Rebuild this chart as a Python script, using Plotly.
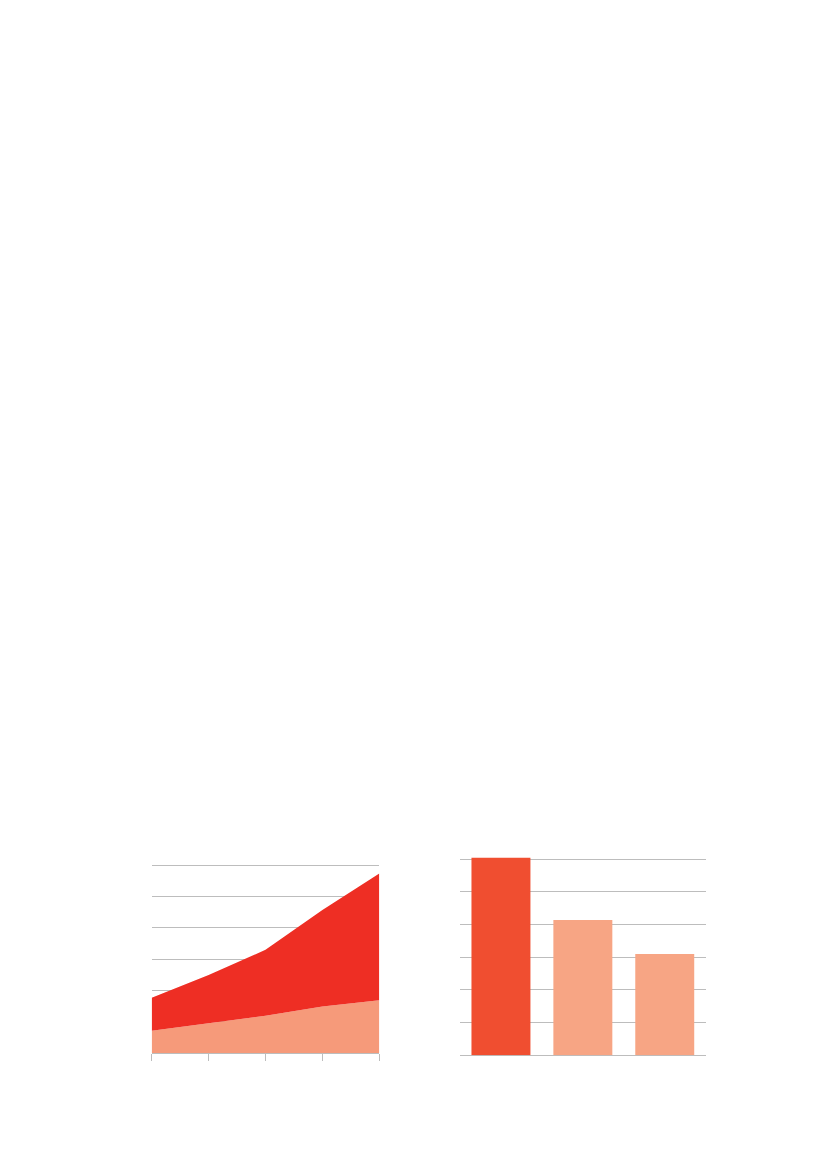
import plotly.graph_objects as go

# left chart: stacked areas (grid units 0..6)
periods = [0, 1, 2, 3, 4]
base_share = [0.72, 0.96, 1.20, 1.49, 1.69]
top_share = [1.05, 1.54, 2.10, 3.08, 4.05]

# right chart: three bars
bar_cats = [0, 1, 2]
bar_vals = [6.05, 4.14, 3.10]
bar_colors = ["#F04E30", "#F7A584", "#F7A584"]

GRID = "#BDBDBD"
W, H = 827, 1169
OFF = 8  # page body margin


def px_x(v):
    return (v - OFF) / W


def px_y(v):
    return (H - (v - OFF)) / H


fig = go.Figure()

fig.add_trace(go.Scatter(x=periods, y=base_share, stackgroup="a",
                         mode="lines", line=dict(width=0, color="#F69A7A"),
                         fillcolor="#F69A7A", xaxis="x", yaxis="y",
                         hoverinfo="skip"))
fig.add_trace(go.Scatter(x=periods, y=top_share, stackgroup="a",
                         mode="lines", line=dict(width=0, color="#EE2E24"),
                         fillcolor="#EE2E24", xaxis="x", yaxis="y",
                         hoverinfo="skip"))

fig.add_trace(go.Bar(x=bar_cats, y=bar_vals, marker_color=bar_colors,
                     marker_line_width=0, xaxis="x2", yaxis="y2",
                     hoverinfo="skip"))

fig.update_layout(
    width=W, height=H,
    margin=dict(l=0, r=0, t=0, b=0),
    paper_bgcolor="white", plot_bgcolor="white",
    showlegend=False,
    bargap=0.28,
    xaxis=dict(domain=[px_x(151.7), px_x(379.3)], range=[0, 4],
               tickvals=periods, showticklabels=False,
               ticks="outside", ticklen=7, tickcolor=GRID, tickwidth=1,
               showline=True, linecolor=GRID, linewidth=1,
               showgrid=False, zeroline=False),
    yaxis=dict(domain=[px_y(1053.3), px_y(864.0)], range=[0, 6.04],
               tickvals=[1, 2, 3, 4, 5, 6],
               showticklabels=False, showgrid=True, gridcolor=GRID,
               gridwidth=1, zeroline=False, showline=False),
    xaxis2=dict(domain=[px_x(460), px_x(705.7)], range=[-0.5, 2.5],
                anchor="y2", showticklabels=False, showgrid=False,
                zeroline=False, showline=False, ticks=""),
    yaxis2=dict(domain=[px_y(1055.3), px_y(856.0)], range=[0, 6.1],
                anchor="x2", tickvals=[0, 1, 2, 3, 4, 5, 6],
                showticklabels=False, showgrid=True, gridcolor=GRID,
                gridwidth=1, zeroline=True, zerolinecolor=GRID,
                zerolinewidth=1, showline=False),
)

fig.write_html("out.html")
